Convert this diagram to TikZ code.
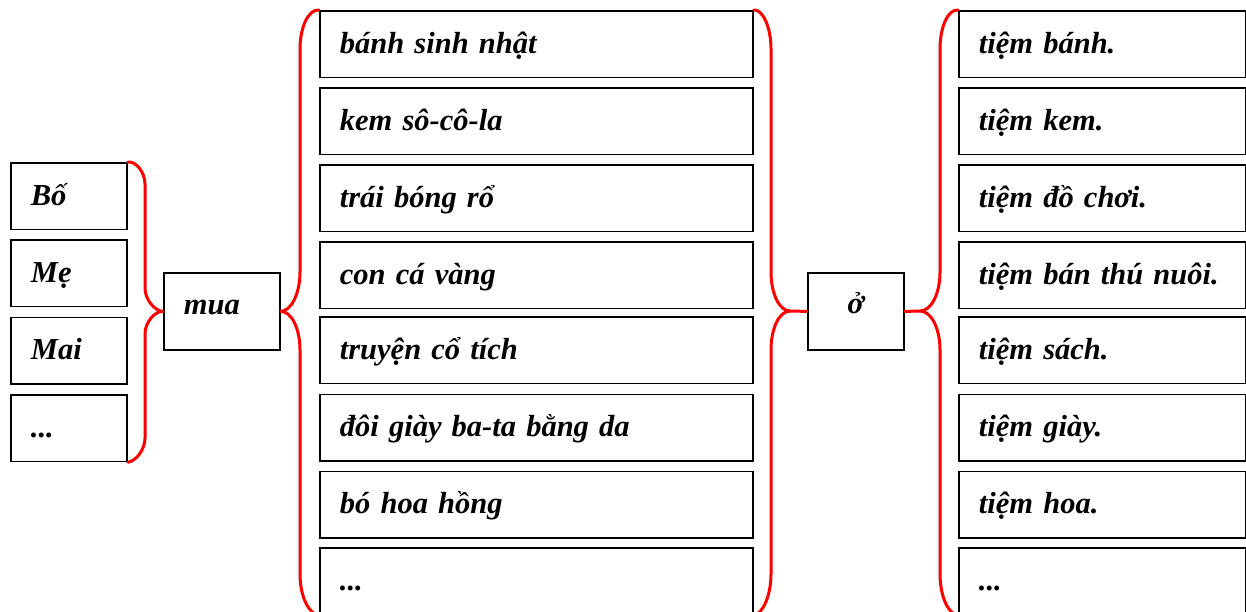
\documentclass[tikz,border=0pt]{standalone}
\usepackage{fontspec}
\setmainfont{Liberation Serif}
\usetikzlibrary{calc}
\begin{document}
\begin{tikzpicture}[x=1pt,y=-1pt,
  box/.style={draw=black,line width=1.8pt,anchor=north west,inner xsep=20pt,inner ysep=0pt,
    minimum height=66.5pt,align=left,text height=18pt,text depth=0pt,
    font=\fontsize{30.5}{32}\selectfont\bfseries\itshape},
  lbox/.style={box,text width=76pt},
  mbox/.style={box,text width=393pt},
  rbox/.style={box,text width=247pt},
  brace/.style={draw=red,line width=3pt,line cap=round,line join=round}]
\useasboundingbox (0,0) rectangle (1246,611);
\clip (0,0) rectangle (1246,611);
% left column
\node[lbox] (L1) at (10,162) {Bố};
\node[lbox] (L2) at (10,239) {Mẹ};
\node[lbox] (L3) at (10,316.5) {Mai};
\node[lbox] (L4) at (10,394) {...};
% mua
\node[box,text width=76pt,minimum height=77pt,text height=7pt] (mua) at (163,272) {mua};
% middle column
\node[mbox] (M1) at (319,10) {bánh sinh nhật};
\node[mbox] (M2) at (319,87) {kem sô-cô-la};
\node[mbox] (M3) at (319,164) {trái bóng rổ};
\node[mbox] (M4) at (319,241) {con cá vàng};
\node[mbox] (M5) at (319,316) {truyện cổ tích};
\node[mbox] (M6) at (319,393.5) {đôi giày ba-ta bằng da};
\node[mbox] (M7) at (319,470.5) {bó hoa hồng};
\node[mbox] (M8) at (319,547) {...};
% o
\node[box,inner xsep=0pt,text width=96pt,align=center,minimum height=77pt,text height=5pt] (o) at (807,272) {ở};
% right column
\node[rbox] (R1) at (958,10) {tiệm bánh.};
\node[rbox] (R2) at (958,87) {tiệm kem.};
\node[rbox] (R3) at (958,164) {tiệm đồ chơi.};
\node[rbox] (R4) at (958,241) {tiệm bán thú nuôi.};
\node[rbox] (R5) at (958,316) {tiệm sách.};
\node[rbox] (R6) at (958,393.5) {tiệm giày.};
\node[rbox] (R7) at (958,470.5) {tiệm hoa.};
\node[rbox] (R8) at (958,547) {...};
% braces
\coordinate (t1) at (790,311);
\coordinate (t2) at (920,311);
\draw[brace] (L1.north east) .. controls (136.5,161) and (145,173) .. (145,184) -- (145,288)
  .. controls (145,300) and (155,311) .. (mua.west) .. controls (155,311) and (145,322) .. (145,334)
  -- (145,438) .. controls (145,449) and (136.5,461) .. (L4.south east);
\draw[brace] (M1.north west) .. controls (308.5,9) and (300,27) .. (300,49) -- (300,272)
  .. controls (300,294) and (291,311) .. (mua.east) .. controls (291,311) and (300,328) .. (300,350)
  -- (300,574) .. controls (300,596) and (308.5,614) .. (M8.south west);
\draw[brace] (M1.north east) .. controls (762.5,9) and (771,27) .. (771,49) -- (771,272)
  .. controls (771,294) and (779.5,311) .. (t1) .. controls (779.5,311) and (771,328) .. (771,350)
  -- (771,574) .. controls (771,596) and (762.5,614) .. (M8.south east);
\draw[brace] (t1) -- (o.west);
\draw[brace] (R1.north west) .. controls (948,9) and (940,27) .. (940,49) -- (940,272)
  .. controls (940,294) and (931,311) .. (t2) .. controls (931,311) and (940,328) .. (940,350)
  -- (940,574) .. controls (940,596) and (948,614) .. (R8.south west);
\draw[brace] (o.east) -- (t2);
\end{tikzpicture}
\end{document}
